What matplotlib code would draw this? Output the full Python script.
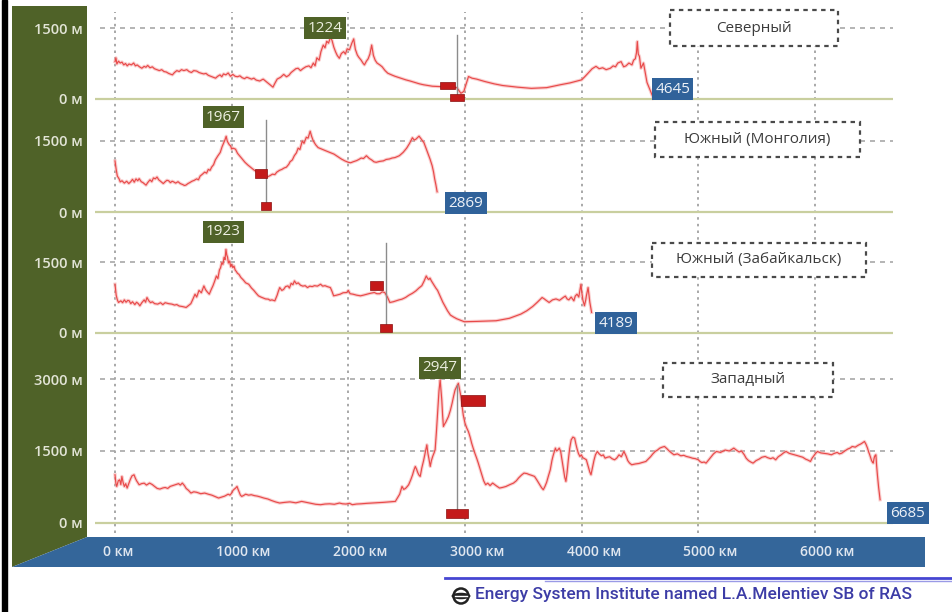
import matplotlib
matplotlib.use("Agg")
import matplotlib.pyplot as plt
from matplotlib.patches import Polygon, Rectangle, Circle, Ellipse
from matplotlib import transforms as mtrans

plt.rcParams['font.family'] = ['Open Sans', 'DejaVu Sans']

# ---------------- data ----------------
km_ticks = [0, 1000, 2000, 3000, 4000, 5000, 6000]
km_labels = ["0 км", "1000 км", "2000 км", "3000 км", "4000 км", "5000 км", "6000 км"]

route_names = ["Северный", "Южный (Монголия)", "Южный (Забайкальск)", "Западный"]
peak_labels = ["1224", "1967", "1923", "2947"]
length_labels = ["4645", "2869", "4189", "6685"]

north_profile = [(0, 790), (8, 870), (16, 740), (30, 800), (45, 760), (60, 780), (75, 720), (90, 750),
                 (105, 700), (120, 740), (140, 720), (160, 760), (175, 700), (190, 720), (210, 680),
                 (230, 650), (250, 690), (265, 670), (280, 710), (300, 660), (320, 680), (338, 640),
                 (360, 620), (380, 600), (400, 620), (420, 580), (440, 570), (460, 540), (480, 520),
                 (492, 510), (510, 560), (530, 600), (550, 580), (570, 620), (590, 600), (615, 620),
                 (635, 580), (655, 560), (675, 600), (700, 590), (720, 560), (738, 545), (760, 530),
                 (780, 540), (800, 500), (820, 480), (840, 460), (862, 440), (880, 480), (900, 510),
                 (915, 470), (930, 530), (950, 510), (970, 550), (990, 480), (1010, 520), (1030, 480),
                 (1050, 470), (1070, 490), (1090, 450), (1110, 430), (1130, 460), (1150, 440),
                 (1170, 420), (1190, 440), (1210, 400), (1240, 380), (1270, 420), (1300, 360),
                 (1330, 300), (1354, 250), (1370, 330), (1390, 420), (1420, 460), (1446, 520),
                 (1470, 470), (1490, 500), (1510, 560), (1530, 600), (1550, 640), (1569, 650),
                 (1590, 600), (1610, 640), (1635, 680), (1662, 700), (1680, 660), (1700, 760),
                 (1715, 700), (1730, 870), (1750, 820), (1765, 1000), (1785, 1140), (1800, 1080),
                 (1815, 1220), (1830, 1180), (1846, 1300), (1860, 1240), (1875, 1100), (1890, 1000),
                 (1905, 920), (1923, 860), (1940, 960), (1960, 1000), (1975, 950), (1990, 1060),
                 (2010, 1040), (2030, 1180), (2046, 1270), (2060, 1050), (2077, 930), (2090, 880),
                 (2110, 820), (2125, 760), (2138, 720), (2155, 800), (2170, 850), (2185, 950),
                 (2200, 1140), (2215, 920), (2230, 820), (2246, 760), (2270, 720), (2290, 680),
                 (2315, 600), (2338, 545), (2370, 510), (2400, 480), (2450, 440), (2492, 405),
                 (2530, 380), (2570, 350), (2610, 320), (2646, 300), (2720, 270), (2800, 260),
                 (2880, 250), (2930, 240), (2965, 120), (2990, 160), (3030, 475), (3060, 440),
                 (3100, 420), (3169, 370), (3250, 320), (3323, 285), (3450, 250), (3569, 225),
                 (3700, 240), (3815, 300), (3900, 340), (4000, 405), (4030, 480), (4060, 560),
                 (4090, 640), (4123, 690), (4150, 640), (4180, 660), (4210, 620), (4246, 650),
                 (4270, 700), (4290, 680), (4310, 760), (4338, 790), (4360, 680), (4380, 700),
                 (4405, 760), (4431, 720), (4445, 820), (4460, 850), (4470, 980), (4477, 1215),
                 (4485, 950), (4495, 900), (4508, 650), (4530, 760), (4560, 350), (4615, 15)]

mongolia_profile = [(0, 1080), (10, 900), (20, 760), (35, 700), (45, 636), (60, 660), (80, 610),
                    (100, 650), (118, 601), (135, 640), (150, 690), (165, 630), (180, 700), (195, 660),
                    (207, 705), (225, 640), (240, 620), (255, 590), (266, 567), (280, 620), (300, 680),
                    (315, 640), (330, 720), (345, 700), (360, 739), (375, 680), (390, 650), (405, 620),
                    (414, 601), (430, 640), (445, 670), (460, 660), (475, 620), (490, 650), (503, 636),
                    (520, 610), (540, 640), (560, 600), (580, 580), (595, 560), (607, 567), (625, 600),
                    (640, 620), (660, 650), (680, 670), (700, 700), (715, 680), (730, 760), (750, 800),
                    (769, 843), (785, 820), (800, 900), (815, 880), (828, 947), (845, 1000), (860, 1100),
                    (880, 1180), (902, 1258), (918, 1380), (930, 1450), (942, 1520), (953, 1600),
                    (962, 1500), (970, 1460), (980, 1420), (991, 1396), (1000, 1330), (1010, 1350),
                    (1033, 1327), (1050, 1240), (1070, 1180), (1090, 1120), (1114, 1050), (1140, 990),
                    (1170, 930), (1195, 880), (1223, 843), (1240, 800), (1260, 780), (1280, 760),
                    (1305, 739), (1330, 770), (1350, 800), (1370, 790), (1387, 843), (1410, 880),
                    (1430, 900), (1450, 930), (1469, 947), (1490, 1010), (1500, 1060), (1520, 1100),
                    (1537, 1189), (1555, 1250), (1570, 1350), (1585, 1320), (1605, 1500), (1620, 1450),
                    (1640, 1580), (1655, 1560), (1673, 1707), (1685, 1600), (1700, 1500), (1720, 1420),
                    (1741, 1361), (1770, 1330), (1800, 1300), (1840, 1260), (1877, 1223), (1910, 1170),
                    (1940, 1120), (1970, 1080), (2000, 1050), (2020, 1040), (2040, 1060), (2070, 1085),
                    (2090, 1110), (2110, 1140), (2130, 1130), (2155, 1189), (2180, 1130), (2200, 1100),
                    (2220, 1060), (2239, 1050), (2270, 1070), (2300, 1080), (2325, 1110), (2352, 1120),
                    (2375, 1140), (2400, 1150), (2437, 1189), (2470, 1260), (2500, 1350), (2525, 1450),
                    (2549, 1569), (2565, 1520), (2580, 1540), (2606, 1603), (2625, 1540), (2648, 1465),
                    (2665, 1350), (2680, 1250), (2700, 1120), (2718, 981), (2730, 850), (2740, 700),
                    (2750, 580), (2761, 428)]

zabaikalsk_profile = [(0, 1030), (10, 800), (20, 700), (30, 645), (50, 680), (65, 640), (80, 700),
                      (95, 650), (110, 690), (122, 680), (135, 620), (150, 660), (170, 600), (185, 650),
                      (200, 620), (213, 575), (230, 640), (250, 700), (262, 650), (274, 750), (290, 680),
                      (305, 640), (320, 660), (340, 620), (366, 610), (390, 640), (410, 600), (430, 640),
                      (460, 620), (488, 610), (510, 590), (530, 600), (550, 570), (575, 560), (610, 540),
                      (630, 580), (650, 620), (665, 700), (686, 820), (700, 760), (720, 900), (740, 850),
                      (762, 995), (775, 920), (790, 870), (808, 820), (825, 920), (840, 1000), (855, 1100),
                      (869, 1205), (882, 1150), (895, 1330), (905, 1380), (915, 1485), (925, 1450),
                      (935, 1600), (943, 1550), (951, 1766), (958, 1650), (965, 1600), (972, 1480),
                      (982, 1520), (992, 1400), (1000, 1450), (1010, 1380), (1020, 1415), (1030, 1330),
                      (1040, 1300), (1050, 1260), (1062, 1240), (1080, 1170), (1100, 1120), (1120, 1060),
                      (1146, 1030), (1170, 950), (1190, 900), (1210, 840), (1230, 785), (1250, 760),
                      (1270, 740), (1290, 720), (1314, 715), (1330, 690), (1345, 700), (1370, 680),
                      (1380, 740), (1390, 800), (1400, 880), (1412, 960), (1430, 900), (1445, 920),
                      (1462, 980), (1482, 995), (1495, 950), (1510, 1050), (1525, 1020), (1538, 1100),
                      (1555, 1040), (1570, 1060), (1590, 1010), (1610, 990), (1630, 1000), (1650, 960),
                      (1670, 990), (1690, 980), (1710, 1000), (1735, 990), (1762, 1030), (1780, 990),
                      (1800, 1000), (1820, 980), (1846, 960), (1860, 880), (1874, 785), (1900, 800),
                      (1930, 820), (1955, 850), (1986, 855), (2000, 900), (2015, 830), (2040, 820),
                      (2070, 800), (2104, 785), (2130, 800), (2160, 820), (2190, 840), (2223, 855),
                      (2245, 830), (2270, 830), (2290, 870), (2312, 855), (2325, 800), (2335, 760),
                      (2356, 645), (2385, 660), (2410, 680), (2435, 700), (2460, 715), (2490, 750),
                      (2520, 800), (2550, 840), (2579, 890), (2605, 950), (2630, 1000), (2650, 1100),
                      (2668, 1205), (2680, 1150), (2690, 1130), (2700, 1160), (2712, 1100), (2730, 1030),
                      (2750, 950), (2765, 900), (2786, 785), (2810, 650), (2830, 560), (2850, 470),
                      (2875, 379), (2900, 340), (2930, 300), (2960, 270), (2994, 238), (3100, 245),
                      (3267, 259), (3380, 310), (3479, 400), (3530, 470), (3580, 560), (3620, 650),
                      (3661, 750), (3680, 720), (3690, 700), (3721, 645), (3750, 700), (3780, 720),
                      (3810, 690), (3842, 750), (3860, 780), (3875, 720), (3890, 700), (3910, 760),
                      (3933, 680), (3945, 780), (3960, 820), (3975, 760), (3985, 900), (3994, 1030),
                      (4000, 880), (4010, 700), (4024, 575), (4035, 700), (4040, 780), (4048, 880),
                      (4055, 960), (4062, 820), (4070, 650), (4085, 435)]

west_profile = [(0, 1005), (8, 820), (15, 762), (28, 880), (40, 900), (50, 800), (59, 970), (70, 840),
                (80, 760), (92, 820), (104, 728), (118, 820), (130, 900), (145, 980), (163, 1005),
                (175, 930), (185, 880), (196, 840), (207, 797), (228, 820), (250, 830), (270, 790),
                (296, 832), (320, 800), (340, 760), (362, 720), (385, 707), (410, 730), (430, 740),
                (452, 720), (473, 762), (495, 780), (520, 800), (545, 820), (560, 790), (577, 832),
                (595, 780), (610, 720), (630, 680), (651, 624), (675, 650), (700, 640), (735, 610),
                (769, 624), (800, 600), (830, 580), (860, 550), (888, 520), (915, 540), (940, 560),
                (970, 600), (985, 580), (1000, 624), (1012, 680), (1020, 700), (1035, 730),
                (1046, 762), (1055, 700), (1065, 640), (1075, 580), (1086, 554), (1100, 570),
                (1120, 600), (1145, 580), (1168, 589), (1195, 570), (1220, 560), (1250, 540),
                (1276, 520), (1310, 500), (1340, 470), (1375, 440), (1411, 416), (1455, 430),
                (1500, 440), (1550, 420), (1600, 450), (1640, 430), (1680, 410), (1720, 390),
                (1762, 381), (1800, 395), (1840, 400), (1880, 390), (1924, 416), (1950, 400),
                (1980, 395), (2010, 410), (2034, 381), (2070, 395), (2110, 400), (2160, 410),
                (2205, 416), (2250, 420), (2300, 430), (2350, 440), (2403, 450), (2420, 520),
                (2440, 600), (2460, 762), (2475, 700), (2490, 720), (2505, 760), (2517, 797),
                (2535, 900), (2550, 1000), (2562, 1100), (2574, 1178), (2585, 1120), (2595, 1050),
                (2605, 1000), (2616, 970), (2630, 1150), (2645, 1300), (2660, 1480), (2673, 1629),
                (2682, 1450), (2690, 1350), (2702, 1178), (2712, 1300), (2725, 1400), (2735, 1460),
                (2744, 1525), (2755, 1900), (2767, 2356), (2777, 2750), (2787, 2980), (2795, 2750),
                (2801, 2564), (2808, 2250), (2815, 2010), (2825, 2060), (2835, 2100), (2845, 2150),
                (2858, 2218), (2875, 2350), (2890, 2500), (2903, 2650), (2915, 2772), (2930, 2850),
                (2943, 2911), (2952, 2800), (2960, 2700), (2972, 2495), (2985, 2250), (3000, 2079),
                (3015, 1980), (3030, 1900), (3045, 1780), (3057, 1663), (3070, 1560), (3085, 1450),
                (3100, 1350), (3114, 1247), (3130, 1120), (3145, 1000), (3160, 880), (3177, 797),
                (3195, 830), (3215, 780), (3237, 832), (3265, 780), (3296, 728), (3320, 740),
                (3350, 760), (3385, 800), (3416, 832), (3440, 880), (3460, 940), (3485, 1000),
                (3506, 1040), (3530, 1030), (3550, 1010), (3575, 990), (3596, 970), (3615, 900),
                (3640, 800), (3655, 740), (3671, 693), (3685, 760), (3700, 850), (3715, 980),
                (3731, 1109), (3745, 1300), (3755, 1400), (3765, 1480), (3775, 1560), (3785, 1500),
                (3795, 1520), (3808, 1560), (3820, 1490), (3832, 1300), (3845, 1100), (3855, 950),
                (3865, 866), (3875, 1050), (3885, 1300), (3897, 1550), (3910, 1732), (3925, 1790),
                (3940, 1767), (3950, 1650), (3960, 1550), (3972, 1450), (3985, 1386), (3997, 1420),
                (4010, 1360), (4025, 1340), (4040, 1317), (4050, 1230), (4060, 1150), (4070, 1060),
                (4080, 1005), (4092, 1150), (4105, 1300), (4118, 1420), (4134, 1490), (4150, 1440),
                (4170, 1400), (4185, 1420), (4201, 1351), (4220, 1370), (4240, 1380), (4260, 1340),
                (4282, 1317), (4300, 1350), (4320, 1420), (4340, 1380), (4362, 1490), (4380, 1400),
                (4395, 1300), (4410, 1250), (4429, 1213), (4460, 1230), (4490, 1240), (4520, 1260),
                (4550, 1282), (4570, 1330), (4590, 1380), (4610, 1440), (4630, 1490), (4650, 1520),
                (4670, 1560), (4690, 1580), (4710, 1594), (4730, 1550), (4750, 1500), (4770, 1460),
                (4791, 1421), (4820, 1440), (4850, 1400), (4875, 1410), (4898, 1386), (4925, 1370),
                (4950, 1350), (4975, 1340), (5000, 1317), (5015, 1280), (5030, 1260), (5050, 1270),
                (5066, 1247), (5090, 1320), (5110, 1380), (5130, 1440), (5155, 1490), (5190, 1470),
                (5230, 1520), (5265, 1500), (5304, 1560), (5325, 1520), (5350, 1480), (5370, 1500),
                (5394, 1421), (5410, 1350), (5430, 1300), (5450, 1270), (5469, 1247), (5495, 1300),
                (5520, 1330), (5545, 1370), (5573, 1386), (5595, 1360), (5620, 1340), (5640, 1360),
                (5663, 1317), (5685, 1380), (5710, 1420), (5730, 1460), (5752, 1490), (5780, 1450),
                (5810, 1430), (5840, 1410), (5872, 1386), (5895, 1370), (5920, 1330), (5940, 1310),
                (5961, 1282), (5975, 1350), (5990, 1400), (6005, 1450), (6021, 1490), (6050, 1460),
                (6080, 1450), (6110, 1440), (6140, 1421), (6165, 1450), (6190, 1470), (6210, 1440),
                (6230, 1456), (6255, 1500), (6280, 1540), (6300, 1560), (6319, 1594), (6345, 1580),
                (6370, 1620), (6395, 1650), (6424, 1698), (6437, 1640), (6450, 1560), (6460, 1480),
                (6469, 1421), (6478, 1350), (6485, 1300), (6492, 1270), (6499, 1247), (6505, 1330),
                (6510, 1380), (6516, 1410), (6522, 1421), (6528, 1200), (6535, 1000), (6545, 750),
                (6558, 485)]

profiles = [north_profile, mongolia_profile, zabaikalsk_profile, west_profile]
y_ticks = [[0, 1500], [0, 1500], [0, 1500], [0, 1500, 3000]]

peak_pos = [(1800, 1500), (930, 2005), (930, 2135), (2785, 3230)]
length_pos = [(4780, 211), (3009, 190), (4293, 211), (6796, 208)]
marker_km = [2931, 1295, 2319, 2935]
marker_top = [1352, 1944, 1902, 2875]
marker_upper = [(2846, 275), (1254, 803), (2241, 1014), (3070, 2562)]
marker_lower = [(2931, 42), (1295, 127), (2319, 106), (2935, 208)]

# ---------------- layout (pixels) ----------------
W, H = 952, 612
fig = plt.figure(figsize=(W / 100, H / 100), dpi=100)

def fr(x0, y0, x1, y1):
    return [x0 / W, 1 - y1 / H, (x1 - x0) / W, (y1 - y0) / H]

X0_PX, PX_PER_KM = 115, 700 / 6000
AX_L, AX_R = 95, 893
xlim = ((AX_L - X0_PX) / PX_PER_KM, (AX_R - X0_PX) / PX_PER_KM)

# background decorations
bg = fig.add_axes([0, 0, 1, 1])
bg.set_xlim(0, W); bg.set_ylim(H, 0); bg.axis('off'); bg.set_zorder(0)
bg.add_patch(Rectangle((2, 0), 5, H, color='black'))
bg.add_patch(Polygon([(12, 6), (87, 6), (87, 537), (12, 567)], closed=True, color='#4f6228', lw=0))
bg.add_patch(Polygon([(87, 537), (925, 537), (925, 567), (12, 567)], closed=True, color='#34669a', lw=0))
bg.plot([445, 952], [578, 578], color='#4646d2', lw=2)
bg.plot([545, 952], [581, 581], color='#9a9ae6', lw=1)
bg.add_patch(Circle((461, 596), 7.5, fill=False, ec='#222222', lw=1.8))
bg.add_patch(Ellipse((461, 596), 19, 6.5, fc='#222222', ec='none'))
bg.plot([455, 467], [596, 596], color='white', lw=1)
bg.text(475, 595, "Energy System Institute named L.A.Melentiev SB of RAS", ha='left', va='center',
        fontsize=12.5, fontweight='medium', color='#3c3ca6', family=['Roboto', 'DejaVu Sans'])

# vertical grid
gax = fig.add_axes(fr(AX_L, 12, AX_R, 533))
gax.set_xlim(*xlim); gax.set_ylim(0, 1); gax.axis('off'); gax.set_zorder(1)
for t in km_ticks:
    gax.axvline(t, color='#9a9a9a', lw=1.2, ls=(0, (1.5, 2.5)))

panels = [(5, 108, 99, 71), (108, 222, 212, 71), (222, 345, 333, 71), (345, 530, 523, 72)]
upper_sizes = [(15, 7), (12, 9), (13, 9), (24, 11)]
lower_sizes = [(14, 7), (10, 8), (12, 8), (22, 9)]
axes = []
for i, (top, bot, zero, px1500) in enumerate(panels):
    ax = fig.add_axes(fr(AX_L, top, AX_R, bot))
    ax.set_zorder(2 + i)
    ax.patch.set_alpha(0)
    mpp = 1500 / px1500
    ax.set_xlim(*xlim)
    ax.set_ylim((zero - bot) * mpp, (zero - top) * mpp)
    for s in ax.spines.values():
        s.set_visible(False)
    ax.set_xticks([])
    ax.set_yticks(y_ticks[i])
    ax.set_yticklabels([f"{v} м" for v in y_ticks[i]], fontweight='semibold')
    ax.tick_params(axis='y', length=0, pad=9, labelsize=10.5, labelcolor='#e2e4d6')
    for v in y_ticks[i][1:]:
        ax.axhline(v, xmin=5 / (AX_R - AX_L), xmax=1, color='#a8a8a8', lw=1.2, ls=(0, (3, 3)))
    ax.axhline(0, color='#c9cf9f', lw=1.6)

    kms = [p[0] for p in profiles[i]]
    ms = [p[1] for p in profiles[i]]
    ax.plot(kms, ms, color='#f6a6a6', lw=2.4, alpha=0.55, solid_joinstyle='round')
    ax.plot(kms, ms, color='#e84a4a', lw=0.85, solid_joinstyle='round')

    # marker line and boxes
    ax.plot([marker_km[i], marker_km[i]], [marker_lower[i][1], marker_top[i]], color='#8c8c8c', lw=1)
    for (xk, ym), (wpx, hpx) in [(marker_upper[i], upper_sizes[i]), (marker_lower[i], lower_sizes[i])]:
        wk, hm = wpx / PX_PER_KM, hpx * mpp
        ax.add_patch(Rectangle((xk - wk / 2, ym - hm / 2), wk, hm, fc='#c41a1a', ec='#8a1010',
                               lw=0.5, zorder=5))

    ax.text(*peak_pos[i], peak_labels[i], ha='center', va='center', fontsize=11, color='#eef0e2',
            bbox=dict(boxstyle='square,pad=0.22', fc='#4f6228', ec='none'), zorder=6)
    ax.text(*length_pos[i], length_labels[i], ha='center', va='center', fontsize=11, color='#eef2f8',
            bbox=dict(boxstyle='square,pad=0.22', fc='#30629a', ec='none'), zorder=6)
    axes.append(ax)

# x labels in the blue band
ax4 = axes[-1]
base = mtrans.blended_transform_factory(ax4.transData, fig.transFigure)
for t, lab in zip(km_ticks, km_labels):
    off = 3 if t == 0 else 12
    tr = mtrans.offset_copy(base, fig=fig, x=off, y=0, units='dots')
    ax4.text(t, 1 - 552 / H, lab, transform=tr, ha='center', va='center', fontsize=10,
             fontweight='semibold', color='#e0e7f0', clip_on=False)

# title boxes
top_ax = fig.add_axes([0, 0, 1, 1])
top_ax.set_xlim(0, W); top_ax.set_ylim(H, 0); top_ax.axis('off'); top_ax.set_zorder(20)
boxes = [(670, 10, 838, 46), (655, 122, 860, 157), (652, 243, 866, 277), (663, 363, 833, 397)]
for name, (x0, y0, x1, y1) in zip(route_names, boxes):
    top_ax.add_patch(Rectangle((x0, y0), x1 - x0, y1 - y0, fc='white', ec='#4a4a4a', lw=1.6,
                               ls=(0, (2, 2))))
    top_ax.text((x0 + x1) / 2, (y0 + y1) / 2, name, ha='center', va='center', fontsize=11,
                color='#3c3c3c')

fig.savefig("out.png", dpi=100)
